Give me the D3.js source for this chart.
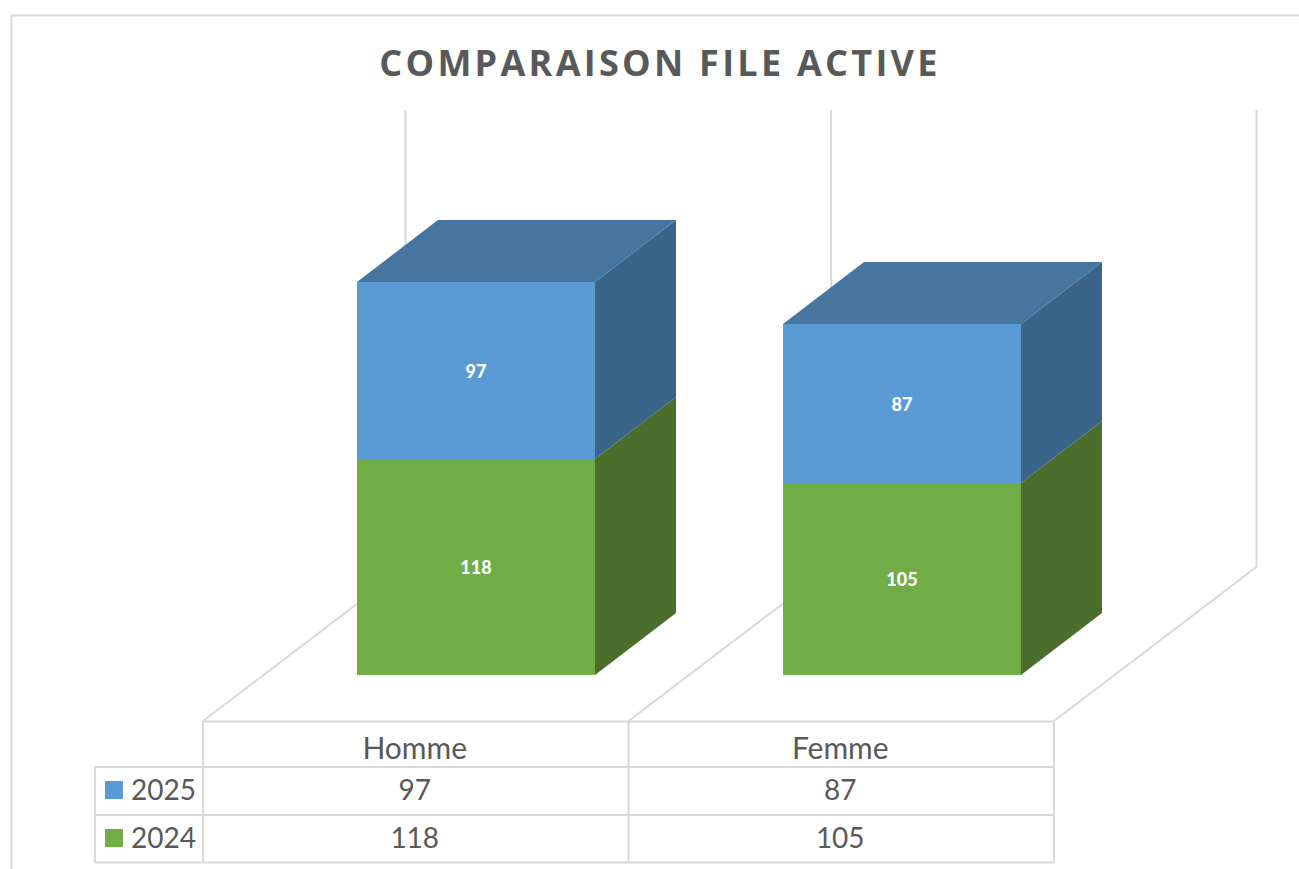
<!DOCTYPE html>
<html><head><meta charset="utf-8">
<style>html,body{margin:0;padding:0;background:#fff}svg{display:block}</style>
<script src="https://cdnjs.cloudflare.com/ajax/libs/d3/7.8.5/d3.min.js"></script>
</head><body><svg id="c" width="1299" height="869"></svg>
<script>
const titleText = "COMPARAISON FILE ACTIVE";
const categories = ["Homme", "Femme"];
const seriesNames = ["2024", "2025"];
const values2024 = [118, 105];
const values2025 = [97, 87];
const axisMax = 250;

const font = "Lato, Carlito, 'Open Sans', sans-serif";
const titleFont = "'Open Sans', Lato, sans-serif";
const grid = "#d9d9d9", text = "#595959";
const fronts = {"2024":"#70ad47","2025":"#5b9bd5"};
const sides  = {"2024":"#4a6e2c","2025":"#3a6589"};
const tops   = {"2024":"#5a8a39","2025":"#4675a0"};

const svg = d3.select("#c");
const seriesData = {"2024":values2024,"2025":values2025};

// layout
const floorFrontY = 721, floorL = 203, floorR = 1054;
const wallDX = 203, wallDY = -154;           // floor depth
const liftDX = 60.3, liftDY = -46;           // front of the bars relative to floor front
const barDX = 81, barDY = -62;               // bar depth
const x = d3.scaleBand().domain(categories).range([floorL, floorR]);
const barW = 238;
const baseY = floorFrontY + liftDY;
const y = d3.scaleLinear().domain([0, axisMax]).range([baseY, baseY - 457]);

const line = (x1,y1,x2,y2,w=2)=>svg.append("line").attr("x1",x1).attr("y1",y1).attr("x2",x2).attr("y2",y2)
  .attr("stroke",grid).attr("stroke-width",w);

// chart border
line(11.5,15,11.5,869,2); line(11,15.5,1299,15.5,2);

// title
svg.append("text").attr("x",660).attr("y",76).attr("text-anchor","middle")
  .attr("font-family",titleFont).attr("font-weight",700).attr("font-size",36)
  .attr("letter-spacing",3.27).attr("fill",text).text(titleText);

// walls and floor dividers
const xEdges = [floorL, x(categories[1]), floorR];
const wallShiftY = (floorFrontY + wallDY) - baseY;
xEdges.forEach(e=>{
  line(e+wallDX-0.5, y(axisMax)+wallShiftY, e+wallDX-0.5, floorFrontY+wallDY, 2);
  line(e, floorFrontY, e+wallDX-0.5, floorFrontY+wallDY, 2);
});

// stacked 3D bars
const poly = (pts,fill)=>svg.append("polygon").attr("points",pts.map(p=>p.join(",")).join(" ")).attr("fill",fill);
categories.forEach((c,i)=>{
  const x0 = Math.round(x(c) + x.bandwidth()/2 + liftDX - barW/2), x1 = x0 + barW;
  let acc = 0;
  seriesNames.forEach((s,si)=>{
    const v = seriesData[s][i];
    const yb = Math.round(y(acc)), yt = Math.round(y(acc+v));
    acc += v;
    poly([[x1,yb],[x1+barDX,yb+barDY],[x1+barDX,yt+barDY],[x1,yt]], sides[s]);
    poly([[x0,yb],[x1,yb],[x1,yt],[x0,yt]], fronts[s]).attr("shape-rendering","crispEdges");
    if(si===seriesNames.length-1)
      poly([[x0,yt],[x1,yt],[x1+barDX,yt+barDY],[x0+barDX,yt+barDY]], tops[s]);
    svg.append("text").attr("x",(x0+x1)/2).attr("y",(yb+yt)/2+7).attr("text-anchor","middle")
      .attr("font-family",font).attr("font-weight",900).attr("font-size",18).attr("fill","#fff").text(v);
  });
});

// data table
const rows = ["2025","2024"];
const rowY = [767, 815, 862.5];
const legendL = 95;
line(floorL,floorFrontY+0.5,floorR,floorFrontY+0.5,2);
rowY.forEach(r=>line(legendL,r,floorR,r,2));
line(legendL,rowY[0],legendL,rowY[2],2);
xEdges.forEach(e=>line(e,floorFrontY,e,rowY[2],2));

const tbl = (tx,ty,t,size,anchor="middle")=>svg.append("text").attr("x",tx).attr("y",ty).attr("text-anchor",anchor)
  .attr("font-family",font).attr("font-size",size).attr("fill",text).text(t);
categories.forEach(c=>tbl(x(c)+x.bandwidth()/2-1, 759, c, 30));
rows.forEach((r,ri)=>{
  svg.append("rect").attr("x",105).attr("y",781+ri*48).attr("width",18).attr("height",18).attr("fill",fronts[r]);
  tbl(131, 800+ri*48, r, 28, "start");
  categories.forEach((c,i)=>tbl(x(c)+x.bandwidth()/2-1, 800+ri*48, seriesData[r][i], 28));
});
</script></body></html>
